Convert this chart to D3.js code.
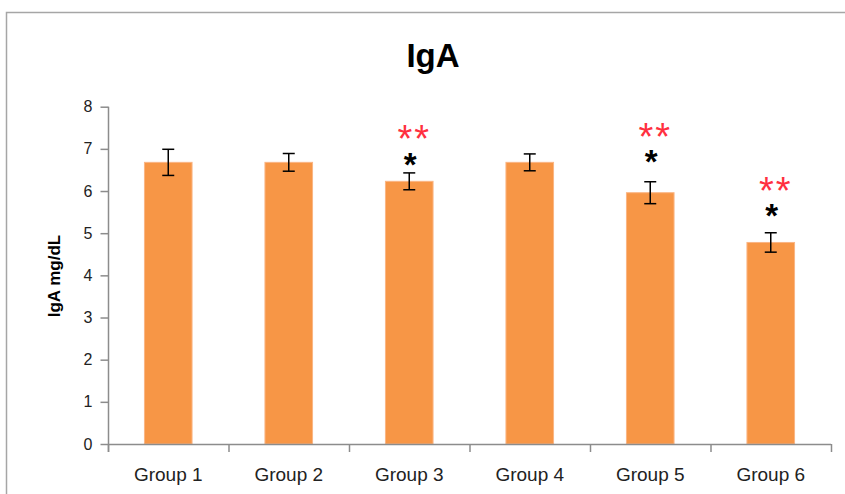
<!DOCTYPE html>
<html>
<head>
<meta charset="utf-8">
<script src="https://cdn.jsdelivr.net/npm/d3@7"></script>
<style>
  html, body { margin: 0; padding: 0; background: #fff; overflow: hidden; }
  svg { display: block; }
  svg text { font-family: "Liberation Sans", Arial, sans-serif; }
</style>
</head>
<body>
<div id="chart-area"></div>
<script>
// values
const groups = ["Group 1", "Group 2", "Group 3", "Group 4", "Group 5", "Group 6"]
const means = [6.68, 6.68, 6.23, 6.68, 5.96, 4.78]
const errs = [0.31, 0.21, 0.2, 0.2, 0.26, 0.23]
const yTicks = [0, 1, 2, 3, 4, 5, 6, 7, 8]
// significance marks and the level (in mg/dL) where each sits
const blackMarks = ["", "", "*", "", "*", "*"]
const blackLevel = [0, 0, 6.78, 0, 6.85, 5.57]
const redMarks = ["", "", "**", "", "**", "**"]
const redLevel = [0, 0, 7.39, 0, 7.44, 6.16]

const data = groups.map((g, i) => ({
	group: g, mean: means[i], err: errs[i],
	black: blackMarks[i], blackY: blackLevel[i],
	red: redMarks[i], redY: redLevel[i]
}))

const W = 845, H = 494
const svg = d3.select("#chart-area").append("svg")
	.attr("width", W)
	.attr("height", H)

// chart frame (only top and left edges are inside the picture)
svg.append("path")
	.attr("d", `M6.5,${H}V12.5H${W}`)
	.attr("fill", "none")
	.attr("stroke", "#a6a6a6")
	.attr("stroke-width", 1.5)

const x = d3.scaleBand()
	.domain(groups)
	.range([108, 831])
	.paddingInner(0.605)
	.paddingOuter(0.3025)

const y = d3.scaleLinear()
	.domain([0, 8])
	.range([444, 106.7])

const axisColor = "#8c8c8c"
const cx = g => x(g) + x.bandwidth() / 2

// title
svg.append("text")
	.attr("x", 433).attr("y", 67)
	.attr("text-anchor", "middle")
	.attr("font-size", 33)
	.attr("font-weight", "bold")
	.text("IgA")

// y axis
const yAxis = svg.append("g")
	.attr("transform", "translate(108.5,0)")
	.call(d3.axisLeft(y).tickValues(yTicks).tickSize(8).tickPadding(8).tickSizeOuter(0))
yAxis.select(".domain").attr("stroke", axisColor).attr("stroke-width", 1.5)
	.attr("d", `M0,${y(8)}V452`)
yAxis.selectAll(".tick line").attr("stroke", axisColor).attr("stroke-width", 1.5)
yAxis.selectAll(".tick text")
	.attr("font-size", 16)
	.attr("fill", "#222")
	.attr("font-family", "Liberation Sans, Arial, sans-serif")

// y axis title
svg.append("text")
	.attr("transform", "translate(60,276) rotate(-90)")
	.attr("text-anchor", "middle")
	.attr("font-size", 17)
	.attr("font-weight", "bold")
	.text("IgA mg/dL")

// bars
svg.selectAll("rect.bar")
	.data(data)
	.enter().append("rect")
	.attr("class", "bar")
	.attr("x", d => x(d.group))
	.attr("y", d => y(d.mean))
	.attr("width", x.bandwidth())
	.attr("height", d => y(0) - y(d.mean))
	.attr("fill", "#f79646")
	.attr("stroke", "#fab584")
	.attr("stroke-width", 1)

// x axis, ticks on category borders
const step = x.step()
const borders = d3.range(groups.length + 1).map(i => 108 + i * step)
svg.append("line")
	.attr("x1", 108).attr("x2", borders[borders.length - 1])
	.attr("y1", y(0) + 0.5).attr("y2", y(0) + 0.5)
	.attr("stroke", axisColor).attr("stroke-width", 1.5)
svg.selectAll("line.xtick")
	.data(borders)
	.enter().append("line")
	.attr("class", "xtick")
	.attr("x1", d => d + 0.5).attr("x2", d => d + 0.5)
	.attr("y1", y(0)).attr("y2", y(0) + 8)
	.attr("stroke", axisColor).attr("stroke-width", 1.5)

svg.selectAll("text.xlab")
	.data(groups)
	.enter().append("text")
	.attr("class", "xlab")
	.attr("x", d => cx(d))
	.attr("y", 481)
	.attr("text-anchor", "middle")
	.attr("font-size", 19)
	.attr("fill", "#222")
	.text(d => d)

// error bars
const eb = svg.selectAll("g.err")
	.data(data)
	.enter().append("g")
	.attr("class", "err")
	.attr("stroke", "#000")
	.attr("stroke-width", 1.5)
eb.append("line")
	.attr("x1", d => cx(d.group))
	.attr("x2", d => cx(d.group))
	.attr("y1", d => y(d.mean + d.err))
	.attr("y2", d => y(d.mean - d.err))
eb.selectAll("line.cap")
	.data(d => [d.mean + d.err, d.mean - d.err].map(v => ({ g: d.group, v: v })))
	.enter().append("line")
	.attr("class", "cap")
	.attr("x1", d => cx(d.g) - 6)
	.attr("x2", d => cx(d.g) + 6)
	.attr("y1", d => y(d.v))
	.attr("y2", d => y(d.v))

// significance marks: one text per bar, red line on top, black line below
const marks = svg.selectAll("text.sig")
	.data(data.filter(d => d.red || d.black))
	.enter().append("text")
	.attr("class", "sig")
	.attr("text-anchor", "middle")

marks.append("tspan")
	.attr("x", d => cx(d.group) + 5)
	.attr("y", d => y(d.redY) + 20)
	.attr("font-size", 38)
	.attr("fill", "#ff3040")
	.attr("letter-spacing", 2)
	.text(d => d.red)

marks.append("tspan")
	.attr("x", d => cx(d.group) + 1)
	.attr("y", d => y(d.blackY) + 18)
	.attr("font-size", 33)
	.attr("fill", "#000")
	.attr("font-weight", "bold")
	.text(d => d.black)
</script>
</body>
</html>
